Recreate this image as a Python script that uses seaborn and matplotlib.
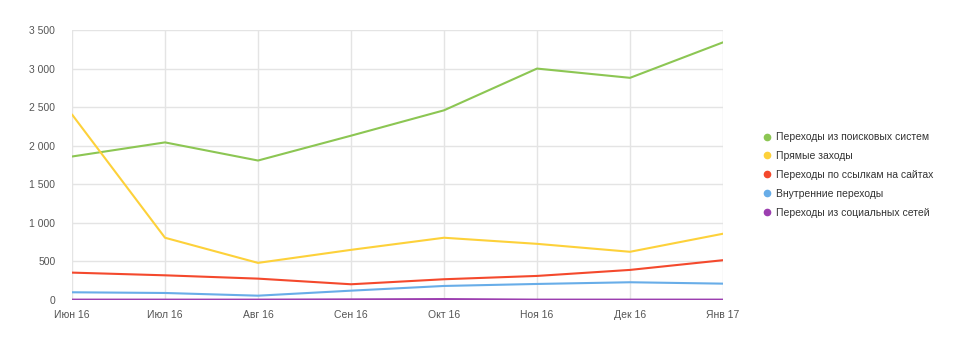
import matplotlib
matplotlib.use("Agg")
import matplotlib.pyplot as plt
import seaborn as sns
import pandas as pd
from matplotlib.lines import Line2D

months = ["Июн 16", "Июл 16", "Авг 16", "Сен 16", "Окт 16", "Ноя 16", "Дек 16", "Янв 17"]
search = [1860, 2043, 1808, 2130, 2459, 3000, 2880, 3340]
direct = [2405, 807, 481, 650, 807, 728, 625, 859]
links = [355, 320, 277, 204, 269, 312, 390, 516]
internal = [100, 91, 56, 121, 182, 208, 230, 212]
social = [5, 5, 5, 8, 12, 5, 5, 5]

series_names = ["Переходы из поисковых систем", "Прямые заходы", "Переходы по ссылкам на сайтах",
                "Внутренние переходы", "Переходы из социальных сетей"]
colors = ["#8cc653", "#fdd13a", "#f4492d", "#68ade8", "#9c3fb0"]
yticks = [0, 500, 1000, 1500, 2000, 2500, 3000, 3500]

rows = []
for name, vals in zip(series_names, [search, direct, links, internal, social]):
    for i, v in enumerate(vals):
        rows.append({"x": i, "value": v, "series": name})
df = pd.DataFrame(rows)

sns.set_theme(style="white")
plt.rcParams['font.family'] = ['Liberation Sans', 'DejaVu Sans']

fig = plt.figure(figsize=(9.78, 3.53), dpi=100)
ax = fig.add_axes([72/978, 1 - 300/353, (723-72)/978, (300-30)/353])

sns.lineplot(data=df, x="x", y="value", hue="series", palette=colors,
             hue_order=series_names, linewidth=1.5, ax=ax, legend=False, zorder=3)

ax.set_xlim(0, len(months) - 1)
ax.set_ylim(0, 3500)
ax.set_xticks(range(len(months)))
ax.set_xticklabels(months)
ax.set_yticks(yticks)
ax.set_yticklabels([f"{v:,}".replace(",", " ") for v in yticks])
ax.grid(True, color="#e4e4e4", linewidth=1)
for s in ax.spines.values():
    s.set_visible(False)
ax.tick_params(axis="both", length=0, labelsize=7.5, colors="#555555")
ax.tick_params(axis="x", pad=7)
ax.tick_params(axis="y", pad=12)
ax.set_xlabel("")
ax.set_ylabel("")

handles = [Line2D([0], [0], marker="o", color="none", markerfacecolor=c, markeredgecolor=c,
                  markersize=4.5) for c in colors]
leg = fig.legend(handles, series_names, loc="upper left", bbox_to_anchor=(757/978, 1 - 128/353),
                 frameon=False, fontsize=7.5, handletextpad=0.25, labelspacing=0.85,
                 handlelength=1.2, borderaxespad=0)
for t in leg.get_texts():
    t.set_color("#333333")

fig.savefig("out.png", dpi=100)
